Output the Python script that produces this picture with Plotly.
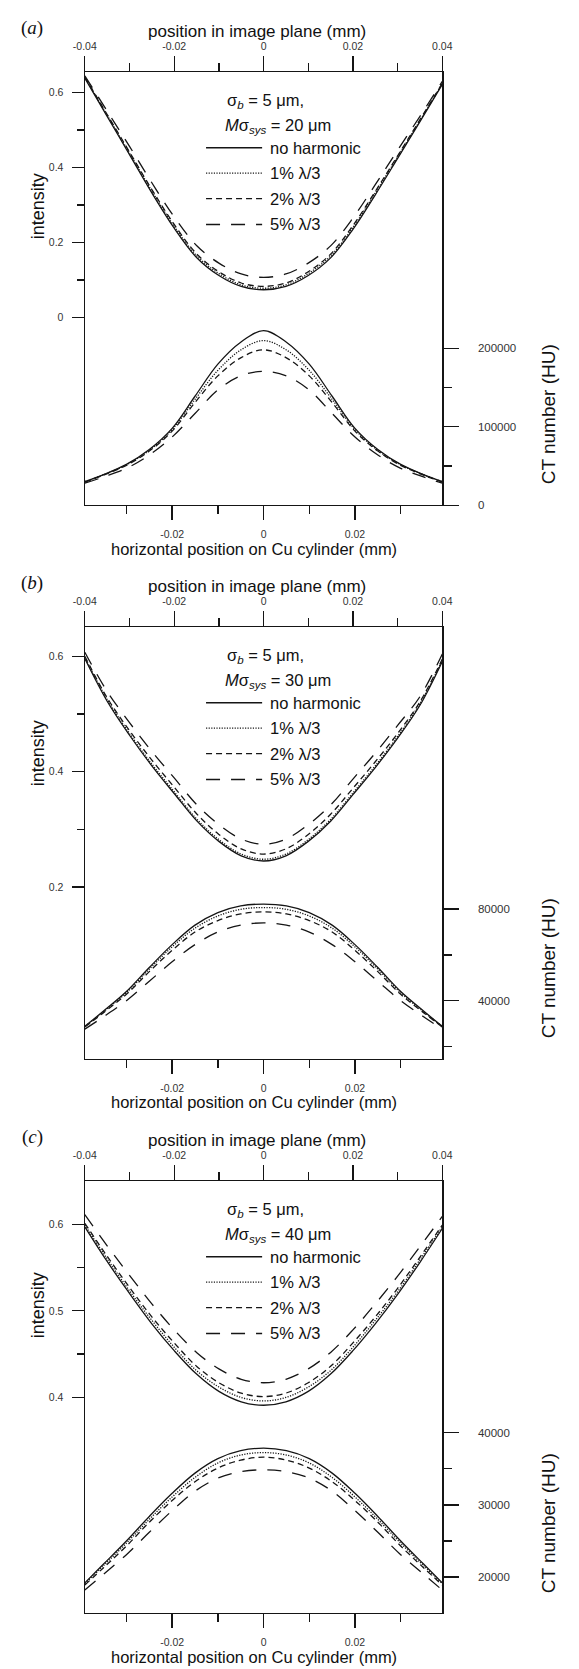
import plotly.graph_objects as go

W, H = 579, 1669

# ---------------- data ----------------
X_IMG = [-0.04, -0.035, -0.03, -0.025, -0.02, -0.015, -0.01, -0.005, 0.0,
         0.005, 0.01, 0.015, 0.02, 0.025, 0.03, 0.035, 0.04]
X_CYL = [-0.0391, -0.035, -0.03, -0.025, -0.02, -0.015, -0.01, -0.005, 0.0,
         0.005, 0.01, 0.015, 0.02, 0.025, 0.03, 0.035, 0.0391]

SERIES_NAMES = ["no harmonic", "1% λ/3", "2% λ/3", "5% λ/3"]
PANEL_LABELS = ["a", "b", "c"]
MSYS = [20, 30, 40]

# panel (a)
A_INT_0 = [0.638, 0.536, 0.434, 0.332, 0.238, 0.160, 0.112, 0.083, 0.074, 0.083, 0.112, 0.159, 0.235, 0.327, 0.424, 0.522, 0.621]
A_INT_1 = [0.640, 0.539, 0.438, 0.337, 0.243, 0.165, 0.117, 0.087, 0.078, 0.087, 0.117, 0.164, 0.240, 0.332, 0.428, 0.525, 0.623]
A_INT_2 = [0.641, 0.541, 0.441, 0.341, 0.248, 0.170, 0.122, 0.092, 0.083, 0.092, 0.122, 0.169, 0.245, 0.336, 0.431, 0.527, 0.624]
A_INT_5 = [0.644, 0.550, 0.456, 0.359, 0.268, 0.192, 0.145, 0.116, 0.107, 0.116, 0.145, 0.191, 0.265, 0.354, 0.446, 0.536, 0.629]
A_CT_0 = [30000, 39000, 52000, 71000, 98000, 139000, 180000, 208000, 222700, 208000, 180000, 139000, 98000, 71000, 52000, 39000, 30000]
A_CT_1 = [30000, 38800, 51500, 70000, 96500, 135000, 172000, 198000, 210000, 198000, 172000, 135000, 96500, 70000, 51500, 38800, 30000]
A_CT_2 = [29500, 38300, 50800, 69000, 94500, 131000, 165000, 188000, 198200, 188000, 165000, 131000, 94500, 69000, 50800, 38300, 29500]
A_CT_5 = [28000, 36000, 47000, 64000, 87000, 117000, 147000, 165000, 170700, 165000, 147000, 117000, 87000, 64000, 47000, 36000, 28000]

# panel (b)
B_INT_0 = [0.596, 0.522, 0.463, 0.410, 0.362, 0.315, 0.279, 0.254, 0.245, 0.254, 0.279, 0.314, 0.360, 0.407, 0.458, 0.515, 0.591]
B_INT_1 = [0.598, 0.525, 0.466, 0.413, 0.365, 0.318, 0.282, 0.257, 0.248, 0.257, 0.282, 0.317, 0.363, 0.410, 0.461, 0.518, 0.593]
B_INT_2 = [0.600, 0.528, 0.471, 0.420, 0.373, 0.327, 0.291, 0.266, 0.257, 0.266, 0.291, 0.326, 0.371, 0.417, 0.466, 0.521, 0.595]
B_INT_5 = [0.607, 0.539, 0.485, 0.435, 0.389, 0.343, 0.308, 0.283, 0.274, 0.283, 0.308, 0.342, 0.387, 0.432, 0.480, 0.530, 0.604]
B_CT_0 = [28800, 35500, 44000, 54500, 64500, 73000, 78500, 81400, 82200, 81400, 78500, 73000, 64500, 54500, 44000, 35500, 28800]
B_CT_1 = [28700, 35200, 43500, 53800, 63500, 71700, 77000, 79900, 80700, 79900, 77000, 71700, 63500, 53800, 43500, 35200, 28700]
B_CT_2 = [28500, 34800, 42800, 52700, 62000, 70000, 75000, 77900, 78800, 77900, 75000, 70000, 62000, 52700, 42800, 34800, 28500]
B_CT_5 = [27600, 33000, 40000, 48500, 57000, 64500, 70000, 73000, 74000, 73000, 70000, 64500, 57000, 48500, 40000, 33000, 27600]

# panel (c)
C_INT_0 = [0.597, 0.557, 0.520, 0.485, 0.454, 0.427, 0.407, 0.395, 0.391, 0.395, 0.407, 0.427, 0.454, 0.485, 0.519, 0.556, 0.595]
C_INT_1 = [0.599, 0.560, 0.523, 0.489, 0.458, 0.431, 0.412, 0.400, 0.396, 0.400, 0.412, 0.431, 0.458, 0.489, 0.522, 0.559, 0.597]
C_INT_2 = [0.601, 0.563, 0.527, 0.493, 0.463, 0.436, 0.417, 0.405, 0.401, 0.405, 0.417, 0.436, 0.463, 0.493, 0.526, 0.562, 0.599]
C_INT_5 = [0.611, 0.575, 0.541, 0.508, 0.478, 0.452, 0.433, 0.421, 0.417, 0.421, 0.433, 0.452, 0.478, 0.508, 0.540, 0.574, 0.609]
C_CT_0 = [19200, 21800, 25000, 28400, 31600, 34400, 36400, 37500, 37850, 37500, 36400, 34400, 31600, 28400, 25000, 21800, 19200]
C_CT_1 = [19100, 21600, 24700, 28000, 31100, 33800, 35800, 36900, 37240, 36900, 35800, 33800, 31100, 28000, 24700, 21600, 19100]
C_CT_2 = [18900, 21300, 24300, 27600, 30600, 33200, 35100, 36200, 36600, 36200, 35100, 33200, 30600, 27600, 24300, 21300, 18900]
C_CT_5 = [18200, 20400, 23100, 26200, 29200, 31900, 33700, 34600, 34850, 34600, 33700, 31900, 29200, 26200, 23100, 20400, 18200]

INT_DATA = [[A_INT_0, A_INT_1, A_INT_2, A_INT_5],
            [B_INT_0, B_INT_1, B_INT_2, B_INT_5],
            [C_INT_0, C_INT_1, C_INT_2, C_INT_5]]
CT_DATA = [[A_CT_0, A_CT_1, A_CT_2, A_CT_5],
           [B_CT_0, B_CT_1, B_CT_2, B_CT_5],
           [C_CT_0, C_CT_1, C_CT_2, C_CT_5]]

TOP_TICKS = [-0.04, -0.02, 0, 0.02, 0.04]
TOP_TICKTEXT = ["-0.04", "-0.02", "0", "0.02", "0.04"]
X_MINOR = [-0.03, -0.01, 0.01, 0.03]
BOT_TICKS = [-0.02, 0, 0.02]
BOT_TICKTEXT = ["-0.02", "0", "0.02"]

INT_TICKS = [[0, 0.2, 0.4, 0.6], [0.2, 0.4, 0.6], [0.4, 0.5, 0.6]]
INT_TICKTEXT = [["0", "0.2", "0.4", "0.6"], ["0.2", "0.4", "0.6"], ["0.4", "0.5", "0.6"]]
INT_MINOR = [[0.1, 0.3, 0.5], [0.3, 0.5], [0.45, 0.55]]
INT_RANGE = [[-0.4999, 0.654], [-0.0981, 0.6506], [0.151, 0.6498]]

CT_TICKS = [[0, 100000, 200000], [40000, 80000], [20000, 30000, 40000]]
CT_TICKTEXT = [["0", "100000", "200000"], ["40000", "80000"], ["20000", "30000", "40000"]]
CT_MINOR = [[50000, 150000], [20000, 60000], [25000, 35000]]
CT_RANGE = [[0, 552700], [14600, 203200], [15000, 74850]]

# ---------------- layout geometry (pixels) ----------------
PLOT_L, PLOT_R = 75.7, 447.3
PANEL_TOP = [72.3, 629.3, 1185.3]
PANEL_BOT = [507.0, 1062.7, 1619.0]
INT_TITLE_Y = [207, 756, 1310]
CT_TITLE_Y = [416, 972, 1529]

INK = "#151515"
TICKFONT = dict(family="Liberation Sans, Arial, sans-serif", size=10.5, color="#333")
RTICKFONT = dict(family="Liberation Sans, Arial, sans-serif", size=11.5, color="#333")
FONT = "Liberation Sans, Arial, sans-serif"
DASHES = ["solid", "1.2px,1.4px", "6px,4px", "14px,11px"]
LW = 1.3


def px(x):
    return x / W


def py(y):
    return 1 - y / H


fig = go.Figure()
layout = dict(width=W, height=H, margin=dict(l=0, r=0, t=0, b=0),
              paper_bgcolor="white", plot_bgcolor="white", showlegend=False,
              font=dict(family=FONT, color="#111"))

annotations = []
shapes = []


def minor(vals, ln):
    return dict(tickmode="array", tickvals=vals, ticks="outside", ticklen=ln,
                tickwidth=LW, tickcolor=INK, showgrid=False)


for p in range(3):
    n = 2 * p + 1
    sfx = str(n) if n > 1 else ""
    xb, yr = "x" + sfx, "y" + sfx          # base: bottom x, right y (CT)
    xt, yl = f"x{n + 1}", f"y{n + 1}"      # overlays: top x, left y (intensity)
    dom_x = [px(PLOT_L), px(PLOT_R)]
    dom_y = [py(PANEL_BOT[p]), py(PANEL_TOP[p])]
    common = dict(showline=True, linecolor=INK, linewidth=LW, ticks="outside",
                  tickwidth=LW, tickcolor=INK, showgrid=False, zeroline=False,
                  tickmode="array", fixedrange=True)

    layout["xaxis" + sfx] = dict(domain=dom_x, range=[-0.0391, 0.0391], anchor=yr, side="bottom",
                                 tickvals=BOT_TICKS, ticktext=BOT_TICKTEXT, ticklen=14,
                                 ticklabelstandoff=5, tickfont=TICKFONT,
                                 minor=minor(X_MINOR, 8), **common)
    layout["yaxis" + sfx] = dict(domain=dom_y, range=CT_RANGE[p], anchor=xb, side="right",
                                 tickvals=CT_TICKS[p], ticktext=CT_TICKTEXT[p], ticklen=15,
                                 ticklabelstandoff=17, tickfont=RTICKFONT,
                                 minor=minor(CT_MINOR[p], 8), **common)
    layout[f"xaxis{n + 1}"] = dict(range=[-0.04, 0.04], overlaying=xb, anchor=yr, side="top",
                                   tickvals=TOP_TICKS, ticktext=TOP_TICKTEXT, ticklen=15,
                                   ticklabelstandoff=2, tickfont=TICKFONT,
                                   minor=minor(X_MINOR, 8), **common)
    layout[f"yaxis{n + 1}"] = dict(range=INT_RANGE[p], overlaying=yr, anchor=xb, side="left",
                                   tickvals=INT_TICKS[p], ticktext=INT_TICKTEXT[p], ticklen=12,
                                   ticklabelstandoff=6, tickfont=TICKFONT,
                                   minor=minor(INT_MINOR[p], 7), **common)

    for s in range(4):
        fig.add_trace(go.Scatter(x=X_CYL, y=CT_DATA[p][s], xaxis=xb, yaxis=yr, mode="lines",
                                 name=SERIES_NAMES[s], hoverinfo="skip",
                                 line=dict(color=INK, width=LW, dash=DASHES[s], shape="spline",
                                           smoothing=1.0)))
    for s in range(4):
        fig.add_trace(go.Scatter(x=X_IMG, y=INT_DATA[p][s], xaxis=xt, yaxis=yl, mode="lines",
                                 name=SERIES_NAMES[s], hoverinfo="skip",
                                 line=dict(color=INK, width=LW, dash=DASHES[s], shape="spline",
                                           smoothing=1.0)))

    top = PANEL_TOP[p]
    bot = PANEL_BOT[p]
    # axis titles
    annotations.append(dict(text="position in image plane (mm)", x=px(254.5), y=py(top - 41),
                            xref="paper", yref="paper", showarrow=False, xanchor="center",
                            yanchor="middle", font=dict(size=17, family=FONT, color="#111")))
    annotations.append(dict(text="horizontal position on Cu cylinder (mm)", x=px(251.3), y=py(bot + 43.5),
                            xref="paper", yref="paper", showarrow=False, xanchor="center",
                            yanchor="middle", font=dict(size=16.5, family=FONT, color="#111")))
    annotations.append(dict(text="intensity", x=px(27), y=py(INT_TITLE_Y[p]),
                            xref="paper", yref="paper", showarrow=False, textangle=-90,
                            xanchor="center", yanchor="middle",
                            font=dict(size=18, family=FONT, color="#111")))
    annotations.append(dict(text="CT number (HU)", x=px(558), y=py(CT_TITLE_Y[p]),
                            xref="paper", yref="paper", showarrow=False, textangle=-90,
                            xanchor="center", yanchor="middle",
                            font=dict(size=19, family=FONT, color="#111")))
    annotations.append(dict(text=f"(<i>{PANEL_LABELS[p]}</i>)", x=px(21), y=py(top - 44),
                            xref="paper", yref="paper", showarrow=False, xanchor="center",
                            yanchor="middle",
                            font=dict(size=19, family="Liberation Serif, Times New Roman, serif",
                                      color="#111")))
    # legend header
    annotations.append(dict(text="σ<sub><i>b</i></sub> = 5 μm,", x=px(264), y=py(top + 29.5),
                            xref="paper", yref="paper", showarrow=False, xanchor="center",
                            yanchor="middle", font=dict(size=16.5, family=FONT, color="#111")))
    annotations.append(dict(text=f"<i>M</i>σ<sub><i>sys</i></sub> = {MSYS[p]} μm", x=px(277),
                            y=py(top + 54.5), xref="paper", yref="paper", showarrow=False,
                            xanchor="center", yanchor="middle",
                            font=dict(size=16.5, family=FONT, color="#111")))
    row_off = [76, 101.5, 127, 153]
    for s in range(4):
        yy = py(top + row_off[s])
        shapes.append(dict(type="line", xref="paper", yref="paper", x0=px(201.7), x1=px(260),
                           y0=yy, y1=yy, line=dict(color=INK, width=LW, dash=DASHES[s])))
        annotations.append(dict(text=SERIES_NAMES[s], x=px(266.5), y=yy, xref="paper",
                                yref="paper", showarrow=False, xanchor="left", yanchor="middle",
                                font=dict(size=16.5, family=FONT, color="#111")))

layout["annotations"] = annotations
layout["shapes"] = shapes
layout["hovermode"] = False
fig.update_layout(**layout)
fig.write_html("out.html", config={"displayModeBar": False, "staticPlot": True},
               post_script="document.body.style.margin='0px';document.body.style.overflow='hidden';")
